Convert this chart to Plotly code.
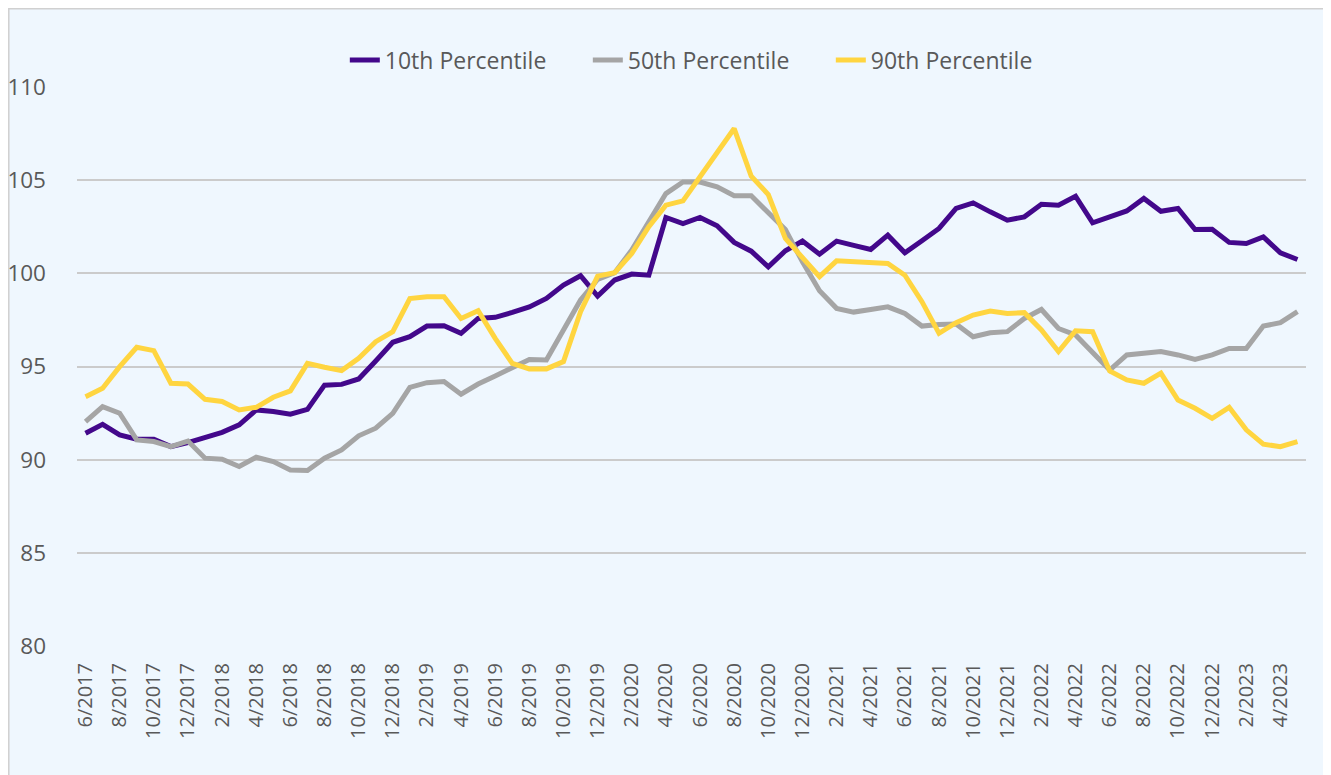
import plotly.graph_objects as go

months = []
m, y = 6, 2017
for _ in range(72):
    months.append(f"{m}/{y}")
    m += 1
    if m > 12:
        m = 1
        y += 1

p10 = [91.42, 91.9, 91.33, 91.1, 91.1, 90.7, 90.92, 91.2, 91.47, 91.87,
       92.67, 92.58, 92.44, 92.7, 94.0, 94.04, 94.33, 95.3, 96.3, 96.6,
       97.17, 97.19, 96.78, 97.58, 97.64, 97.9, 98.2, 98.65, 99.37, 99.87,
       98.78, 99.64, 99.96, 99.9, 103.0, 102.67, 103.0, 102.55, 101.66, 101.19,
       100.35, 101.21, 101.73, 101.03, 101.73, 101.5, 101.28, 102.05, 101.1, 101.75,
       102.41, 103.48, 103.78, 103.3, 102.85, 103.03, 103.71, 103.66, 104.14, 102.71,
       103.0, 103.35, 104.02, 103.33, 103.48, 102.35, 102.37, 101.66, 101.6, 101.96,
       101.1, 100.74]

p50 = [92.04, 92.85, 92.49, 91.06, 90.97, 90.7, 91.0, 90.08, 90.02, 89.63,
       90.13, 89.9, 89.45, 89.42, 90.08, 90.52, 91.28, 91.69, 92.49, 93.88,
       94.13, 94.19, 93.51, 94.06, 94.49, 94.96, 95.38, 95.35, 97.0, 98.57,
       99.67, 100.03, 101.25, 102.76, 104.28, 104.9, 104.9, 104.64, 104.16, 104.16,
       103.3, 102.35, 100.62, 99.07, 98.12, 97.92, 98.06, 98.2, 97.85, 97.17,
       97.26, 97.28, 96.6, 96.81, 96.87, 97.58, 98.06, 97.04, 96.69, 95.71,
       94.81, 95.62, 95.71, 95.8, 95.62, 95.38, 95.62, 95.97, 95.97, 97.17,
       97.35, 97.94]

p90 = [93.38, 93.83, 94.99, 96.03, 95.85, 94.1, 94.06, 93.24, 93.12, 92.67,
       92.81, 93.35, 93.69, 95.17, 94.96, 94.78, 95.44, 96.33, 96.87, 98.65,
       98.74, 98.74, 97.58, 97.99, 96.51, 95.17, 94.87, 94.87, 95.26, 97.94,
       99.85, 100.03, 101.07, 102.5, 103.66, 103.89, 105.18, 106.52, 107.77, 105.21,
       104.23, 101.87, 100.89, 99.82, 100.67, 100.62, 100.53, 100.53, 99.9, 98.48,
       96.78, 97.35, 97.76, 97.98, 97.85, 97.89, 96.96, 95.8, 96.92, 96.87,
       94.76, 94.28, 94.1, 94.64, 93.2, 92.76, 92.22, 92.81, 91.6, 90.83,
       90.7, 90.97]

tick_labels = months[::2]
y_ticks = [80, 85, 90, 95, 100, 105, 110]

series = [
    ("10th Percentile", p10, "#43088B"),
    ("50th Percentile", p50, "#A5A5A5"),
    ("90th Percentile", p90, "#FFD540"),
]

fig = go.Figure()
for name, vals, col in series:
    fig.add_trace(go.Scatter(x=months, y=vals, name=name, mode="lines",
                             line=dict(color=col, width=5)))

bg = "#EFF7FE"
font_family = "Open Sans, Liberation Sans, sans-serif"

fig.update_layout(
    width=1331, height=775,
    paper_bgcolor=bg, plot_bgcolor=bg,
    margin=dict(l=69, r=33, t=79, b=137),
    font=dict(family=font_family, color="#595959"),
    showlegend=True,
    legend=dict(orientation="h", x=0.5145, xanchor="center", y=1.048, yanchor="middle",
                font=dict(size=23, color="#595959"), bgcolor="rgba(0,0,0,0)",
                entrywidth=198, entrywidthmode="pixels", tracegroupgap=0),
    xaxis=dict(type="category", categoryorder="array", categoryarray=months,
               range=[-0.5, 71.5], tickmode="array", tickvals=tick_labels,
               ticktext=tick_labels, tickangle=-90, showgrid=False,
               tickfont=dict(size=20, color="#595959"), ticks="",
               showline=False, zeroline=False, ticklabelstandoff=12,
               automargin=False),
    yaxis=dict(range=[80, 110], tickmode="array", tickvals=y_ticks,
               showgrid=True, gridcolor="#CBCBCB", gridwidth=1.5,
               zeroline=False, showline=False, ticks="",
               tickfont=dict(size=22.5, color="#595959"), ticklabelstandoff=30,
               automargin=False),
    shapes=[dict(type="rect", xref="paper", yref="paper",
                 x0=-0.0555, x1=1.2, y0=-0.5, y1=1.14,
                 line=dict(color="#D0D0D0", width=1.5), fillcolor="rgba(0,0,0,0)",
                 layer="below")],
)

fig.write_html("out.html")
